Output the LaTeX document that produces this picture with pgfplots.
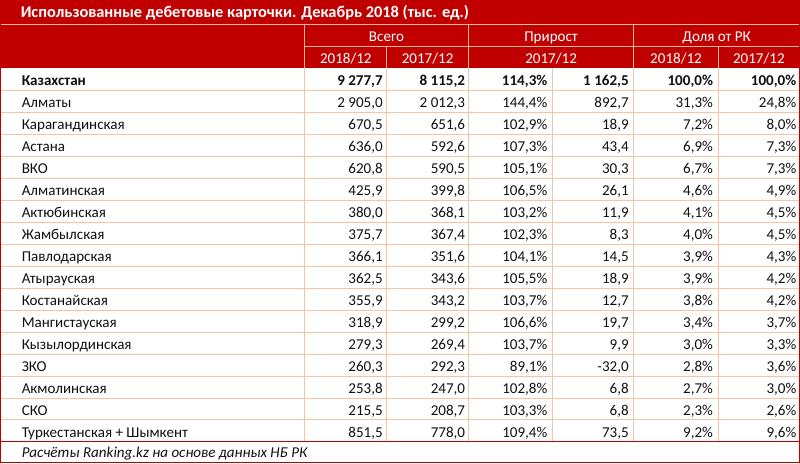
\documentclass[border=0pt]{standalone}
\usepackage{pgfplots}
\pgfplotsset{compat=1.18}
\usepackage{pgfplotstable}
\usepackage{fontspec}
\setmainfont{Carlito}
\definecolor{hdr}{HTML}{C00000}
\definecolor{gridc}{HTML}{F8C3A0}
\definecolor{hline}{HTML}{F4B89A}
\definecolor{txt}{HTML}{111111}

\pgfplotstableread[col sep=comma]{
name,v18,v17,pct,abs,sh18,sh17
Казахстан,9277.7,8115.2,114.3,1162.5,100.0,100.0
}\total

\pgfplotstableread[col sep=comma]{
name,v18,v17,pct,abs,sh18,sh17
Алматы,2905.0,2012.3,144.4,892.7,31.3,24.8
Карагандинская,670.5,651.6,102.9,18.9,7.2,8.0
Астана,636.0,592.6,107.3,43.4,6.9,7.3
ВКО,620.8,590.5,105.1,30.3,6.7,7.3
Алматинская,425.9,399.8,106.5,26.1,4.6,4.9
Актюбинская,380.0,368.1,103.2,11.9,4.1,4.5
Жамбылская,375.7,367.4,102.3,8.3,4.0,4.5
Павлодарская,366.1,351.6,104.1,14.5,3.9,4.3
Атырауская,362.5,343.6,105.5,18.9,3.9,4.2
Костанайская,355.9,343.2,103.7,12.7,3.8,4.2
Мангистауская,318.9,299.2,106.6,19.7,3.4,3.7
Кызылординская,279.3,269.4,103.7,9.9,3.0,3.3
ЗКО,260.3,292.3,89.1,-32.0,2.8,3.6
Акмолинская,253.8,247.0,102.8,6.8,2.7,3.0
СКО,215.5,208.7,103.3,6.8,2.3,2.6
Туркестанская + Шымкент,851.5,778.0,109.4,73.5,9.2,9.6
}\regions

\newcommand{\fnt}{\fontsize{15}{18}\selectfont}

% #1 table, #2 column, #3 right x, #4 first baseline, #5 suffix, #6 font
\newcommand{\numcol}[6]{%
  \addplot[only marks, mark=*, mark size=0pt, mark options={draw=none,fill=none},
    point meta=explicit,
    nodes near coords={\pgfmathprintnumber{\pgfplotspointmeta}#5},
    every node near coord/.append style={anchor=base east, inner sep=0pt, text=txt, font=#6}]
    table[x expr=#3, y expr=#4+21.9*\coordindex, meta=#2] {#1};
}
\newcommand{\namecol}[3]{%
  \addplot[only marks, mark=*, mark size=0pt, mark options={draw=none,fill=none},
    point meta=explicit symbolic,
    nodes near coords,
    every node near coord/.append style={anchor=base west, inner sep=0pt, text=txt, font=#3}]
    table[x expr=23, y expr=#2+21.9*\coordindex, meta=name] {#1};
}

\begin{document}
\begin{tikzpicture}
\begin{axis}[
  scale only axis, width=800pt, height=462pt,
  xmin=0, xmax=800, ymin=0, ymax=462, y dir=reverse,
  hide axis, clip=false,
  /pgf/number format/.cd, assume math mode=true, fixed, fixed zerofill, precision=1, use comma, 1000 sep={\ },
]
% header background
\fill[hdr] (2,0) rectangle (798,68);
\fill[white] (2,68) rectangle (798,461);
% header lines
\draw[hline, line width=1pt] (2,24) -- (798,24);
\draw[hline, line width=1pt] (305,46) -- (798,46);
\draw[hline, line width=1pt] (305,24) -- (305,68);
\draw[hline, line width=1pt] (468,24) -- (468,68);
\draw[hline, line width=1pt] (633,24) -- (633,68);
\draw[hline, line width=1pt] (387,46) -- (387,68);
\draw[hline, line width=1pt] (717,46) -- (717,68);
% grid
\pgfplotsinvokeforeach{1,...,16}{\draw[gridc, line width=1pt] (2,{68+21.9*#1}) -- (798,{68+21.9*#1});}
\pgfplotsinvokeforeach{305,387,468,552,633,717}{\draw[gridc, line width=1pt] (#1,68) -- (#1,440);}
% outer frame
\draw[hdr, line width=1pt] (2,0.5) rectangle (798,461);
\draw[hdr, line width=1pt] (2,440) -- (798,440);
% header texts
\node[anchor=base west, inner sep=0pt, text=white, font=\fontsize{16.3}{19}\selectfont\bfseries] at (22,17.5) {Использованные дебетовые карточки. Декабрь 2018 (тыс. ед.)};
\node[anchor=base, inner sep=0pt, text=white, font=\fnt] at (386.5,41.5) {Всего};
\node[anchor=base, inner sep=0pt, text=white, font=\fnt] at (550.5,41.5) {Прирост};
\node[anchor=base, inner sep=0pt, text=white, font=\fnt] at (715.5,41.5) {Доля от РК};
\node[anchor=base, inner sep=0pt, text=white, font=\fnt] at (346,63) {2018/12};
\node[anchor=base, inner sep=0pt, text=white, font=\fnt] at (427.5,63) {2017/12};
\node[anchor=base, inner sep=0pt, text=white, font=\fnt] at (550.5,63) {2017/12};
\node[anchor=base, inner sep=0pt, text=white, font=\fnt] at (675,63) {2018/12};
\node[anchor=base, inner sep=0pt, text=white, font=\fnt] at (757.5,63) {2017/12};
% footer
\node[anchor=base west, inner sep=0pt, text=txt, font=\fnt\itshape] at (23,455.5) {Расчёты Ranking.kz на основе данных НБ РК};
% data
\namecol{\total}{85}{\fnt\bfseries}
\numcol{\total}{v18}{383}{85}{}{\fnt\bfseries}
\numcol{\total}{v17}{465}{85}{}{\fnt\bfseries}
\numcol{\total}{pct}{547}{85}{\%}{\fnt\bfseries}
\numcol{\total}{abs}{628}{85}{}{\fnt\bfseries}
\numcol{\total}{sh18}{712}{85}{\%}{\fnt\bfseries}
\numcol{\total}{sh17}{795}{85}{\%}{\fnt\bfseries}
\namecol{\regions}{106.9}{\fnt}
\numcol{\regions}{v18}{383}{106.9}{}{\fnt}
\numcol{\regions}{v17}{465}{106.9}{}{\fnt}
\numcol{\regions}{pct}{547}{106.9}{\%}{\fnt}
\numcol{\regions}{abs}{628}{106.9}{}{\fnt}
\numcol{\regions}{sh18}{712}{106.9}{\%}{\fnt}
\numcol{\regions}{sh17}{795}{106.9}{\%}{\fnt}
\end{axis}
\end{tikzpicture}
\end{document}
